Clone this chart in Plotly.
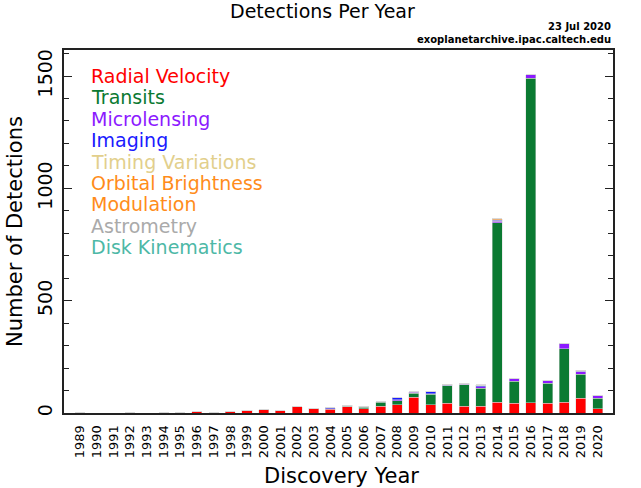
import plotly.graph_objects as go

years = list(range(1989, 2021))

radial_velocity = [1, 0, 0, 0, 0, 0, 1, 6, 1, 6, 13, 15, 11, 27, 19, 16, 28, 19, 30, 36,
                   71, 36, 44, 31, 30, 47, 44, 45, 44, 47, 65, 18]
transits = [0, 0, 0, 0, 0, 0, 0, 0, 0, 0, 0, 0, 0, 1, 1, 3, 3, 6, 18, 18,
            18, 47, 77, 94, 80, 799, 98, 1445, 89, 240, 107, 47]
microlensing = [0, 0, 0, 0, 0, 0, 0, 0, 0, 0, 0, 0, 0, 0, 0, 1, 2, 2, 1, 4,
                3, 3, 1, 4, 6, 8, 12, 15, 10, 23, 12, 12]
imaging = [0, 0, 0, 0, 0, 0, 0, 0, 0, 0, 0, 0, 0, 0, 0, 4, 1, 4, 1, 9,
           2, 9, 1, 2, 6, 3, 1, 1, 1, 1, 1, 1]
timing_variations = [0, 0, 0, 2, 0, 1, 0, 0, 0, 0, 0, 0, 0, 0, 1, 0, 0, 0, 1, 1,
                     1, 1, 2, 1, 1, 3, 0, 0, 2, 0, 3, 1]
orbital_brightness = [0, 0, 0, 0, 0, 0, 0, 0, 0, 0, 0, 0, 0, 0, 0, 0, 0, 0, 0, 0,
                      0, 0, 2, 0, 1, 5, 0, 0, 0, 0, 2, 0]
astrometry = [0, 0, 0, 0, 0, 0, 0, 0, 0, 0, 0, 0, 0, 0, 0, 0, 0, 0, 0, 0,
              0, 0, 0, 0, 1, 0, 0, 0, 0, 0, 0, 0]
disk_kinematics = [0, 0, 0, 0, 0, 0, 0, 0, 0, 0, 0, 0, 0, 0, 0, 0, 0, 0, 0, 0,
                   0, 0, 0, 0, 0, 0, 0, 0, 0, 0, 1, 0]

series = [
    ("Radial Velocity", radial_velocity, "#FF0000"),
    ("Transits", transits, "#0B7A32"),
    ("Microlensing", microlensing, "#8C1AFF"),
    ("Imaging", imaging, "#1A1AFF"),
    ("Timing Variations", timing_variations, "#E2CF8C"),
    ("Orbital Brightness Modulation", orbital_brightness, "#FF8C1A"),
    ("Astrometry", astrometry, "#AAAAAA"),
    ("Disk Kinematics", disk_kinematics, "#4DB8A6"),
]

legend_lines = [
    ("Radial Velocity", "#FF0000"),
    ("Transits", "#0B7A32"),
    ("Microlensing", "#8C1AFF"),
    ("Imaging", "#1A1AFF"),
    ("Timing Variations", "#E2CF8C"),
    ("Orbital Brightness", "#FF8C1A"),
    ("Modulation", "#FF8C1A"),
    ("Astrometry", "#AAAAAA"),
    ("Disk Kinematics", "#4DB8A6"),
]

FONT = "DejaVu Sans"

fig = go.Figure()
for name, vals, col in series:
    fig.add_trace(go.Bar(
        x=years, y=vals, name=name, width=0.6,
        marker=dict(color=col, line=dict(color="rgba(215,215,215,0.8)", width=0.6)),
        showlegend=False,
    ))

annotations = []
for i, (txt, col) in enumerate(legend_lines):
    annotations.append(dict(
        text=txt, xref="paper", yref="paper", x=0.046, y=0.928 - i * 0.0588,
        xanchor="left", yanchor="middle", showarrow=False,
        font=dict(family=FONT, size=19, color=col),
    ))

annotations += [
    dict(text="Detections Per Year", xref="paper", yref="paper", x=0.47, y=1.0, xanchor="center",
         yanchor="bottom", yshift=26, showarrow=False, font=dict(family=FONT, size=19, color="black")),
    dict(text="<b>23 Jul 2020</b>", xref="paper", yref="paper", x=1.0, y=1.0, xanchor="right",
         yanchor="bottom", yshift=16, showarrow=False, font=dict(family=FONT, size=10, color="black")),
    dict(text="<b>exoplanetarchive.ipac.caltech.edu</b>", xref="paper", yref="paper", x=1.0, y=1.0,
         xanchor="right", yanchor="bottom", yshift=3, showarrow=False,
         font=dict(family=FONT, size=10, color="black")),
    dict(text="Discovery Year", xref="paper", yref="paper", x=0.505, y=-0.174,
         xanchor="center", yanchor="middle", showarrow=False,
         font=dict(family=FONT, size=21, color="black")),
    dict(text="Number of Detections", xref="paper", yref="paper", x=-0.089, y=0.499,
         xanchor="center", yanchor="middle", textangle=-90, showarrow=False,
         font=dict(family=FONT, size=21, color="black")),
]

fig.update_layout(
    width=641, height=488,
    margin=dict(l=64, r=28, t=50, b=75, autoexpand=False),
    paper_bgcolor="white", plot_bgcolor="white",
    barmode="stack", bargap=0.4,
    annotations=annotations,
    font=dict(family=FONT, color="black"),
)
fig.update_xaxes(
    range=[1988.04, 2020.92], tickmode="array", tickvals=years, ticktext=[str(y) for y in years],
    tickangle=-90, tickfont=dict(size=13, family=FONT), ticks="", ticklabelstandoff=5,
    showline=True, linecolor="#222", linewidth=2, mirror=True, showgrid=False, zeroline=False,
    automargin=False,
)
fig.update_yaxes(
    range=[0, 1616], tickmode="array", tickvals=[0, 500, 1000, 1500],
    tickangle=-90, tickfont=dict(size=19, family=FONT), ticks="inside", ticklen=8, tickcolor="#222",
    ticklabelstandoff=2,
    minor=dict(ticks="inside", ticklen=5, dtick=100, tickcolor="#222", showgrid=False),
    showline=True, linecolor="#222", linewidth=2, mirror="ticks", showgrid=False, zeroline=False,
    automargin=False,
)

fig.write_html("out.html", config={"displayModeBar": False},
               post_script="document.body.style.margin='0px';")
